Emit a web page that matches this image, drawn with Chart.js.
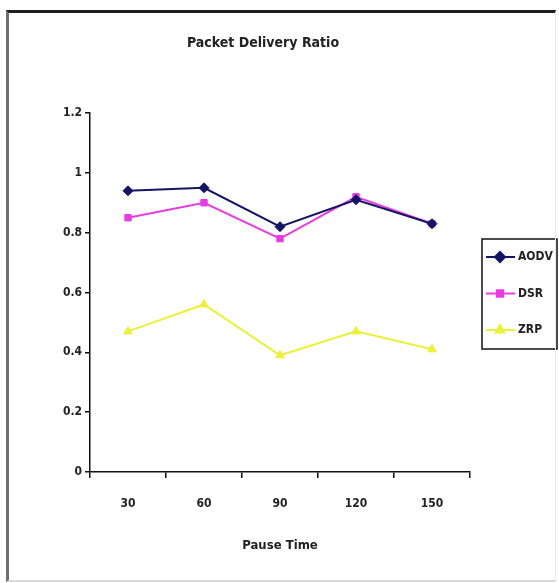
<!DOCTYPE html>
<html>
<head>
<meta charset="utf-8">
<title>Packet Delivery Ratio</title>
<script src="https://cdn.jsdelivr.net/npm/chart.js@4.4.0/dist/chart.umd.min.js"></script>
<style>
	html, body { margin: 0; padding: 0; background: #fff; }
	#wrap { position: relative; width: 559px; height: 583px; overflow: hidden; }
	#pdr-chart { position: absolute; left: 0; top: 0; }
	#frame {
		position: absolute; left: 6px; top: 10px; width: 546px; height: 567px;
		border-top: 3px solid #1e1e1e; border-left: 3px solid #6e6e6e;
		border-bottom: 2px solid #d8d8d8; border-right: 1px solid #e8e8e8;
		pointer-events: none;
	}
</style>
</head>
<body>
<div id="wrap">
	<canvas id="pdr-chart" width="559" height="583"></canvas>
	<div id="frame"></div>
</div>
<script>
// Chart data
const pauseTimes = ["30", "60", "90", "120", "150"];
const aodvValues = [0.94, 0.95, 0.82, 0.91, 0.83];
const dsrValues = [0.85, 0.90, 0.78, 0.92, 0.83];
const zrpValues = [0.47, 0.56, 0.39, 0.47, 0.41];
const yTicks = [0, 0.2, 0.4, 0.6, 0.8, 1, 1.2];

const chartTitle = "Packet Delivery Ratio";
const xTitle = "Pause Time";

// Static styling
const narrowFont = "'Liberation Sans Narrow', 'DejaVu Sans Condensed', 'Liberation Sans', sans-serif";
const textColor = "#222";
const axisColor = "#111";

var chartDataSet = [
	{
		label: "AODV",
		data: aodvValues,
		borderColor: "#141464",
		backgroundColor: "#141464",
		pointStyle: "rectRot",
		pointRadius: 5
	},
	{
		label: "DSR",
		data: dsrValues,
		borderColor: "#e83ce0",
		backgroundColor: "#e83ce0",
		pointStyle: "rect",
		pointRadius: 4.5
	},
	{
		label: "ZRP",
		data: zrpValues,
		borderColor: "#ecf03a",
		backgroundColor: "#ecf03a",
		pointStyle: "triangle",
		pointRadius: 5
	}
];

// Title and boxed legend drawn on the canvas
const chartDecor = {
	id: "chartDecor",
	afterDraw: function(chart) {
		const ctx = chart.ctx;
		ctx.save();
		ctx.fillStyle = textColor;
		ctx.textAlign = "center";
		ctx.textBaseline = "middle";
		ctx.font = "bold 14px " + narrowFont;
		ctx.fillText(chartTitle, 263, 43);

		// legend box
		ctx.strokeStyle = axisColor;
		ctx.lineWidth = 1.5;
		ctx.strokeRect(482, 239, 75, 110);

		ctx.font = "bold 12px " + narrowFont;
		ctx.textAlign = "left";
		chart.data.datasets.forEach(function(ds, i) {
			const y = 257 + i * 36.5;
			ctx.strokeStyle = ds.borderColor;
			ctx.lineWidth = 2;
			ctx.beginPath();
			ctx.moveTo(486, y);
			ctx.lineTo(515, y);
			ctx.stroke();
			ctx.fillStyle = ds.backgroundColor;
			Chart.helpers.drawPoint(ctx, {
				pointStyle: ds.pointStyle,
				radius: ds.pointRadius,
				rotation: 0,
				borderWidth: 1
			}, 500, y);
			ctx.fillStyle = textColor;
			ctx.fillText(ds.label, 518, y);
		});
		ctx.restore();
	}
};

var chartOptions = {
	responsive: false,
	animation: false,
	layout: {
		padding: { left: 0, right: 89, top: 113, bottom: 0 }
	},
	elements: {
		line: { borderWidth: 2, tension: 0 },
		point: { borderWidth: 1 }
	},
	plugins: {
		legend: { display: false },
		title: { display: false },
		tooltip: { enabled: false }
	},
	scales: {
		x: {
			offset: true,
			afterFit: function(scale) { scale.height = 111; },
			grid: {
				offset: true,
				drawOnChartArea: false,
				drawTicks: true,
				tickLength: 6,
				color: axisColor,
				lineWidth: 1.5
			},
			border: { display: true, color: axisColor, width: 1.5 },
			ticks: {
				color: textColor,
				padding: 19,
				maxRotation: 0,
				font: { family: narrowFont, size: 12, weight: "bold" }
			},
			title: {
				display: true,
				text: xTitle,
				color: textColor,
				padding: { top: 0, bottom: 30 },
				font: { family: narrowFont, size: 13, weight: "bold" }
			}
		},
		y: {
			min: 0,
			max: 1.2,
			afterFit: function(scale) { scale.width = 90; },
			afterBuildTicks: function(scale) {
				scale.ticks = yTicks.map(function(v) { return { value: v }; });
			},
			grid: {
				drawOnChartArea: false,
				drawTicks: true,
				tickLength: 5,
				color: axisColor,
				lineWidth: 1.5
			},
			border: { display: true, color: axisColor, width: 1.5 },
			ticks: {
				color: textColor,
				padding: 3,
				font: { family: narrowFont, size: 12, weight: "bold" },
				callback: function(value) { return String(Math.round(value * 10) / 10); }
			}
		}
	}
};

// Draw chart on canvas
const drawDeliveryChart = function() {
	new Chart(document.getElementById("pdr-chart"), {
		type: "line",
		data: { labels: pauseTimes, datasets: chartDataSet },
		options: chartOptions,
		plugins: [chartDecor]
	});
};

drawDeliveryChart();
</script>
</body>
</html>
